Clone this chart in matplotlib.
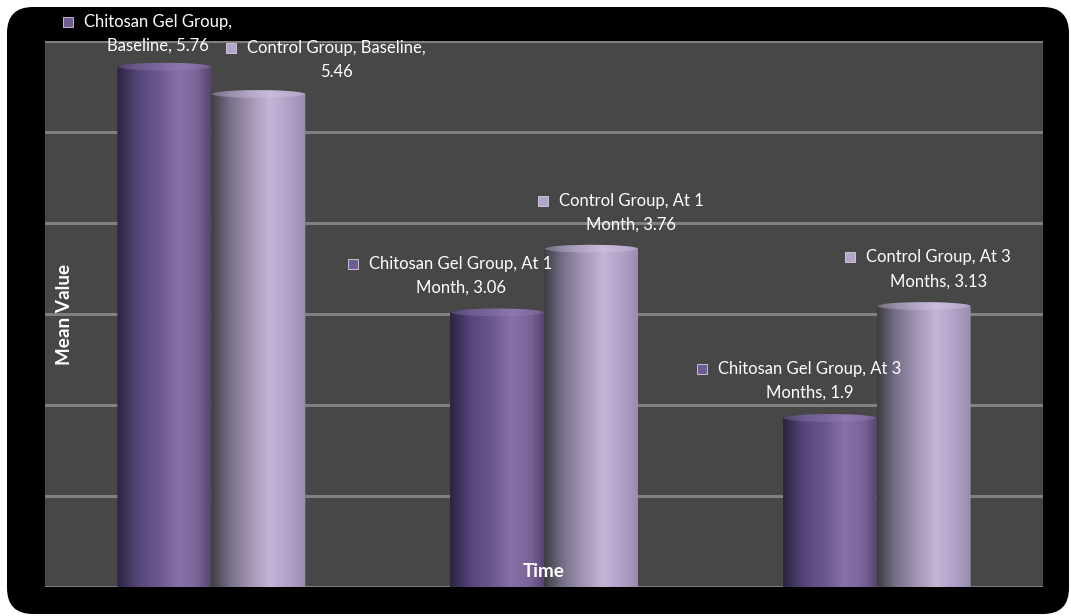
import numpy as np
import matplotlib
matplotlib.use("Agg")
import matplotlib.pyplot as plt
from matplotlib.patches import FancyBboxPatch, Ellipse, PathPatch
from matplotlib.path import Path
from matplotlib.colors import LinearSegmentedColormap
from matplotlib.transforms import IdentityTransform

# ---------------- data ----------------
categories = ["Baseline", "At 1 Month", "At 3 Months"]
cat_label_words = [("Baseline,", None), ("At 1", "Month,"), ("At 3", "Months,")]
series_names = ["Chitosan Gel Group", "Control Group"]
chitosan_values = [5.76, 3.06, 1.90]
control_values = [5.46, 3.76, 3.13]
value_labels_chitosan = ["5.76", "3.06", "1.9"]
value_labels_control = ["5.46", "3.76", "3.13"]
y_ticks = [0, 1, 2, 3, 4, 5, 6]

# ---------------- style ----------------
W, H, DPI = 1071, 616, 100
FONT = "Lato"
FS = 12.0
FS_TITLE = 13.6
chit_stops = [(0.0, "#2c2440"), (0.22, "#56467a"), (0.45, "#6c5890"),
              (0.65, "#8a70a8"), (0.85, "#7a6298"), (1.0, "#54426f")]
ctrl_stops = [(0.0, "#3c3c42"), (0.2, "#787088"), (0.42, "#a496b6"),
              (0.62, "#c4b4d8"), (0.85, "#ae9ec4"), (1.0, "#978aab")]
chit_cmap = LinearSegmentedColormap.from_list("chit", chit_stops)
ctrl_cmap = LinearSegmentedColormap.from_list("ctrl", ctrl_stops)

fig = plt.figure(figsize=(W / DPI, H / DPI), dpi=DPI, facecolor="white")

# black rounded background (pixel coordinates)
bg = FancyBboxPatch((7, 2), 1062, 607, boxstyle="round,pad=0,rounding_size=26",
                    facecolor="black", edgecolor="none", transform=IdentityTransform(),
                    zorder=-10)
fig.patches.append(bg)

ax = fig.add_axes([45 / W, (H - 587) / H, (1043 - 45) / W, (587 - 41) / H])
ax.set_zorder(5)
ax.set_facecolor("#474747")
ax.set_xlim(-0.5, 2.5)
ax.set_ylim(0, 6)
for s in ax.spines.values():
    s.set_visible(False)
ax.set_xticks([])
ax.set_yticks([])
for yt in y_ticks:
    ax.axhline(yt, color="#808080", lw=2.2, zorder=1)

bw = 0.2826
cap = 0.085  # data-units height of the top ellipse

def cylinder(xc, h, cmap, topcol):
    x0, x1 = xc - bw / 2, xc + bw / 2
    yb = h - cap / 2
    t = np.linspace(0, np.pi, 60)
    top_x = xc + (bw / 2) * np.cos(t)
    top_y = yb + (cap / 2) * np.sin(t)
    verts = [(x0, 0), (x1, 0), (x1, yb)] + list(zip(top_x, top_y)) + [(x0, 0)]
    codes = [Path.MOVETO] + [Path.LINETO] * (len(verts) - 2) + [Path.CLOSEPOLY]
    path = Path(verts, codes)
    patch = PathPatch(path, facecolor="none", edgecolor="none", zorder=3)
    ax.add_patch(patch)
    grad = np.linspace(0, 1, 256).reshape(1, -1)
    im = ax.imshow(grad, cmap=cmap, extent=[x0, x1, 0, h], aspect="auto",
                   interpolation="bilinear", zorder=3)
    im.set_clip_path(patch)
    e = Ellipse((xc, yb), bw * 0.985, cap, facecolor=topcol, edgecolor="none",
                alpha=0.35, zorder=4)
    ax.add_patch(e)

x = np.arange(len(categories))
for i in range(len(categories)):
    cylinder(x[i] - bw / 2, chitosan_values[i], chit_cmap, "#9a84b8")
    cylinder(x[i] + bw / 2, control_values[i], ctrl_cmap, "#d6cae6")

ax.set_xlim(-0.5, 2.5)
ax.set_ylim(0, 6)

# axis titles (inside plot area as in reference)
ax.text(0.02, 0.50, "Mean Value", rotation=90, transform=ax.transAxes, ha="center",
        va="center", color="white", fontsize=FS_TITLE, fontweight="bold", family=FONT, zorder=6)
ax.text(0.5, 0.029, "Time", transform=ax.transAxes, ha="center", va="center",
        color="white", fontsize=FS_TITLE, fontweight="bold", family=FONT, zorder=6)

# ---------------- data labels ----------------
def labels_for(series, i, val_txt):
    first, second = cat_label_words[i]
    if i == 0:
        if series == series_names[0]:
            return f"{series},", f"{first} {val_txt}"
        return f"{series}, {first}", val_txt
    return f"{series}, {first}", f"{second} {val_txt}"

label_specs = []
dx_chit = [-6, -36, -20]
dx_ctrl = [78, 40, 15]
dy_chit = [-41, -45, -45]
dy_ctrl = [-42, -44, -45]
for i in range(len(categories)):
    label_specs.append((x[i] - bw / 2, chitosan_values[i], dx_chit[i], dy_chit[i],
                        labels_for(series_names[0], i, value_labels_chitosan[i]), "#6e5c92"))
    label_specs.append((x[i] + bw / 2, control_values[i], dx_ctrl[i], dy_ctrl[i],
                        labels_for(series_names[1], i, value_labels_control[i]), "#b4a6ca"))

line_gap = 24
first_lines = []
for (bx, by, dx, dy, (l1, l2), kc) in label_specs:
    t1 = ax.annotate(l1, xy=(bx, by), xytext=(dx, -dy), textcoords="offset pixels",
                     ha="center", va="center", color="white", fontsize=FS, family=FONT,
                     zorder=7, annotation_clip=False)
    ax.annotate(l2, xy=(bx, by), xytext=(dx, -dy - line_gap), textcoords="offset pixels",
                ha="center", va="center", color="white", fontsize=FS, family=FONT,
                zorder=7, annotation_clip=False)
    first_lines.append((t1, kc))

fig.canvas.draw()
r = fig.canvas.get_renderer()
inv = ax.transData.inverted()
for t1, kc in first_lines:
    bb = t1.get_window_extent(r)
    kx, ky = bb.x0 - 16, (bb.y0 + bb.y1) / 2
    dxy = inv.transform((kx, ky))
    ax.plot([dxy[0]], [dxy[1]], marker="s", markersize=7.2, color=kc,
            markeredgecolor="#d8d0e6", markeredgewidth=0.6, zorder=8, clip_on=False)

fig.savefig("out.png", dpi=DPI, facecolor="white")
